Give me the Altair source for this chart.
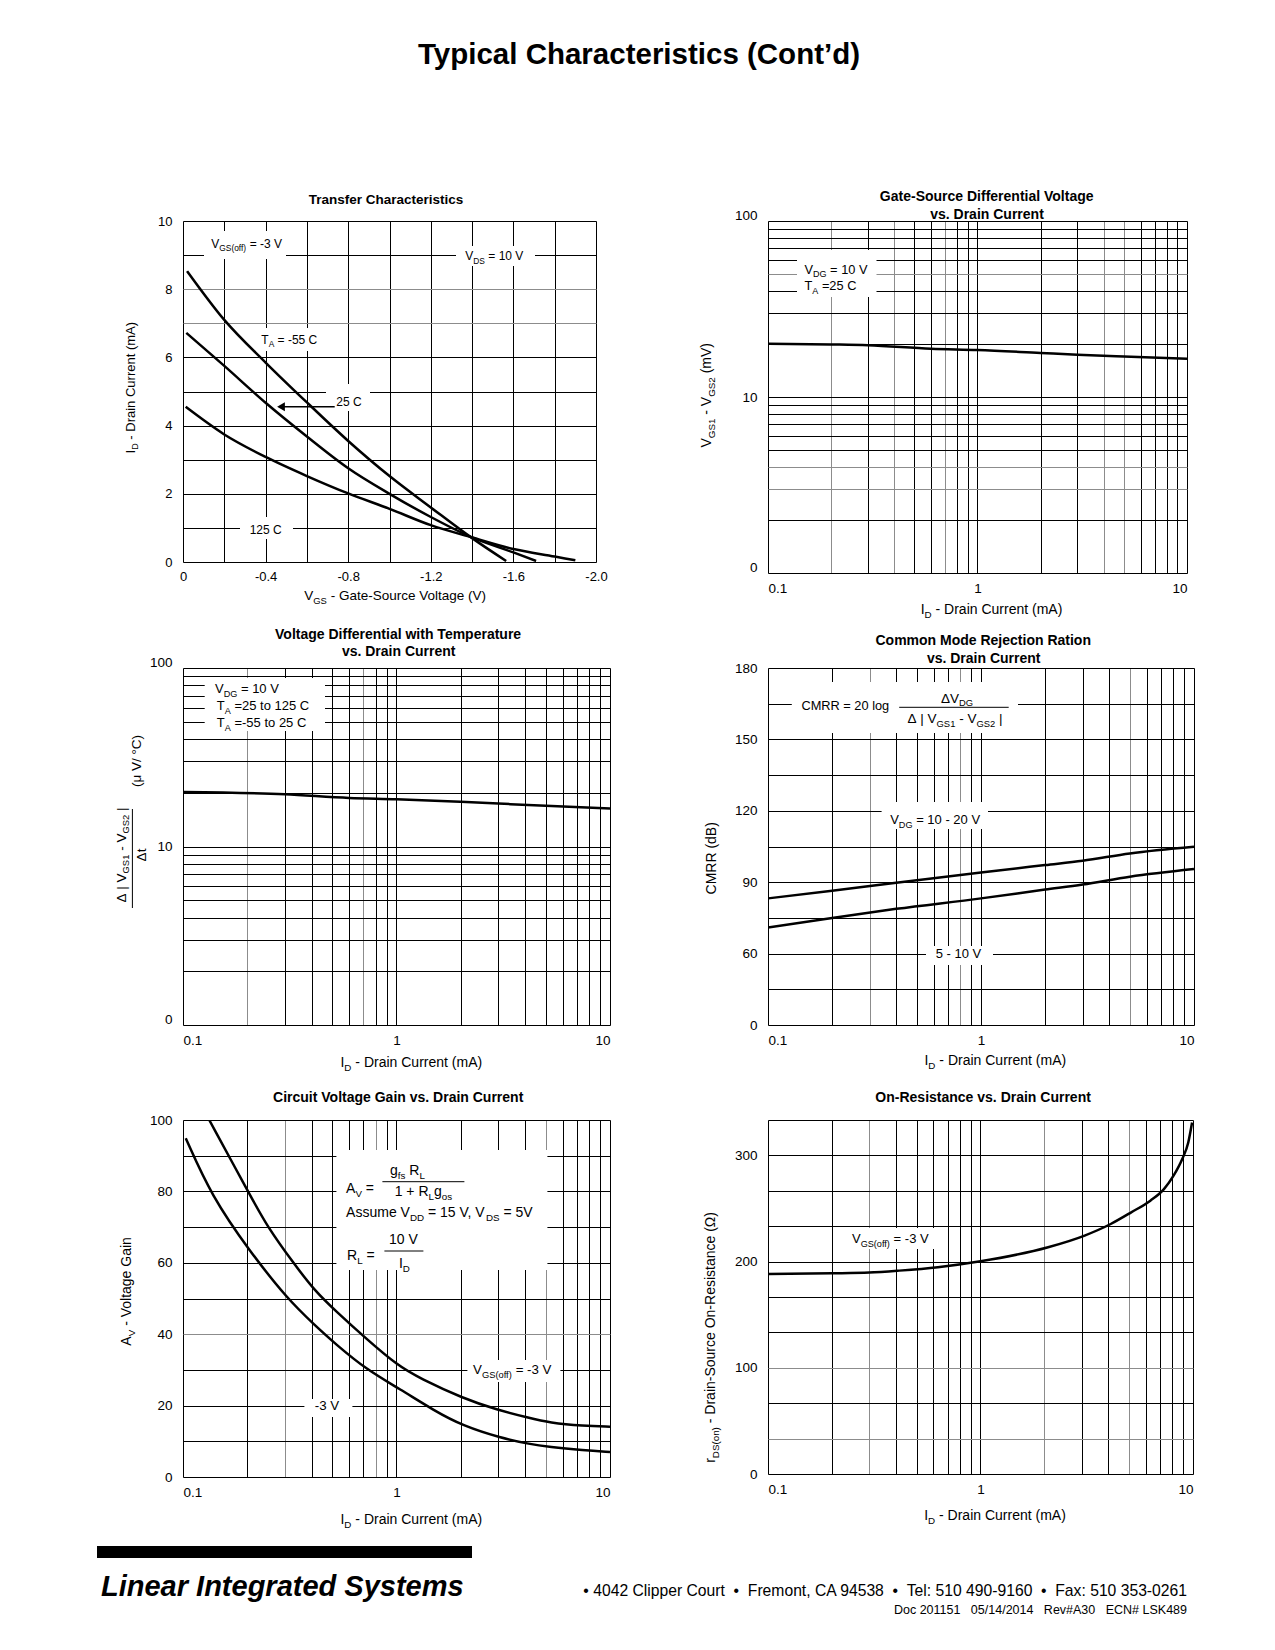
import altair as alt
import pandas as pd

FONT = "Liberation Sans"

# ---------------- values ----------------
# Transfer characteristics: VGS (V) -> ID (mA)
tc_m55_vgs = [-0.02, -0.2, -0.4, -0.6, -0.8, -1.0, -1.2, -1.4, -1.565]
tc_m55_id = [8.53, 7.1, 5.85, 4.68, 3.55, 2.52, 1.6, 0.7, 0.03]
tc_25_vgs = [-0.016, -0.2, -0.4, -0.6, -0.8, -1.0, -1.2, -1.4, -1.6, -1.71]
tc_25_id = [6.72, 5.75, 4.67, 3.68, 2.75, 2.0, 1.32, 0.72, 0.28, 0.03]
tc_125_vgs = [-0.013, -0.2, -0.4, -0.6, -0.8, -1.0, -1.2, -1.4, -1.6, -1.8, -1.9]
tc_125_id = [4.55, 3.74, 3.08, 2.52, 2.01, 1.56, 1.08, 0.72, 0.38, 0.16, 0.05]

# Gate-source differential voltage (mV) vs ID (mA)
gs_id = [0.1, 0.2, 0.3, 0.6, 1, 2, 3, 5, 10]
gs_mv = [20.1, 19.9, 19.7, 18.8, 18.5, 17.8, 17.4, 17.0, 16.5]

# Voltage differential with temperature (uV/C) vs ID (mA)
vt_id = [0.1, 0.3, 0.6, 1, 2, 3, 5, 10]
vt_uv = [20.2, 19.6, 18.7, 18.4, 17.8, 17.4, 16.9, 16.3]

# CMRR (dB, on the printed grid) vs ID (mA)
cm_id = [0.1, 0.2, 0.4, 1, 2, 3, 5, 10]
cm_hi = [83.2, 86.4, 89.8, 94.1, 97.2, 99.0, 102.1, 104.9]
cm_lo = [71.0, 75.0, 78.8, 83.2, 86.9, 89.0, 92.3, 95.5]

# Circuit voltage gain vs ID (mA)
av_up_id = [0.1327, 0.205, 0.247, 0.332, 0.415, 0.519, 0.725, 1.013, 1.29, 2.05, 2.96, 4.16, 5.2, 7.5, 10]
av_up = [100, 79.2, 70.3, 59.6, 52.1, 46.5, 38.6, 31.2, 27.6, 22.0, 18.8, 16.6, 15.2, 14.3, 14.1]
av_lo_id = [0.103, 0.136, 0.205, 0.309, 0.415, 0.519, 0.727, 1.04, 1.5, 2.05, 3.1, 4.13, 5.2, 7.5, 10]
av_lo = [94.9, 78.7, 63.3, 49.8, 42.5, 37.2, 30.0, 24.6, 18.6, 14.3, 10.9, 9.3, 8.4, 7.5, 7.0]

# On-resistance vs ID (mA)
rds_id = [0.1, 0.2, 0.3, 0.415, 0.63, 1.0, 2.08, 3.09, 4.1, 5.12, 6.3, 7.3, 8.1, 8.9, 9.5, 9.9]
rds = [188.4, 189.0, 189.7, 191.5, 194.7, 200.3, 213.5, 224.5, 235.4, 246.4, 257.4, 268.3, 280.9, 296.6, 312.2, 331.0]

# axis grid / tick positions
LOG_X = [0.1, 0.2, 0.3, 0.4, 0.5, 0.6, 0.7, 0.8, 0.9, 1, 2, 3, 4, 5, 6, 7, 8, 9, 10]
LOG_Y = [1, 2, 3, 4, 5, 6, 7, 8, 9, 10, 20, 30, 40, 50, 60, 70, 80, 90, 100]
VGS_T = [0, -0.2, -0.4, -0.6, -0.8, -1.0, -1.2, -1.4, -1.6, -1.8, -2.0]
ID_T = [0, 1, 2, 3, 4, 5, 6, 7, 8, 9, 10]
CM_T = [30, 45, 60, 75, 90, 105, 120, 135, 150, 165, 180]
AV_T = [0, 10, 20, 30, 40, 50, 60, 70, 80, 90, 100]
RD_T = [0, 33.33, 66.67, 100, 133.33, 166.67, 200, 233.33, 266.67, 300, 333.33]

# ---------------- text helpers ----------------
WR = {' ': 278, '(': 333, ')': 333, '-': 333, '.': 278, ',': 278, '/': 278, ':': 278,
      '=': 584, '+': 584, '|': 260, '#': 556, 'Δ': 668, 'μ': 577, '°': 400, 'Ω': 768}
for c in '0123456789':
    WR[c] = 556
WR.update(dict(zip('ABCDEFGHIJKLMNOPQRSTUVWXYZ',
                   [667, 667, 722, 722, 667, 611, 778, 722, 278, 500, 667, 556, 833, 722, 778, 667,
                    778, 722, 667, 611, 722, 667, 944, 667, 667, 611])))
WR.update(dict(zip('abcdefghijklmnopqrstuvwxyz',
                   [556, 556, 500, 556, 556, 278, 556, 556, 222, 222, 500, 222, 833, 556, 556, 556,
                    556, 333, 500, 278, 556, 500, 722, 500, 500, 500])))


def tw(s, size):
    return sum(WR.get(c, 556) for c in s) * size / 1000.0


ONE = pd.DataFrame({'k': [0]})


def txt(s, x, y, size=13, align='left', angle=0, dx=0, dy=0, weight='normal', style='normal'):
    return alt.Chart(ONE).mark_text(
        text=s, font=FONT, fontSize=size, align=align, baseline='alphabetic', angle=angle,
        dx=dx, dy=dy, fontWeight=weight, fontStyle=style, color='black'
    ).encode(x=alt.value(x), y=alt.value(y))


def rich(segs, x, y, size=13, align='left', angle=0):
    sub = round(size * 0.7, 1)
    items = []
    for s in segs:
        t, k = (s, 'n') if isinstance(s, str) else s
        fs = sub if k == 's' else size
        items.append((t, k, fs, tw(t, fs)))
    total = sum(i[3] for i in items)
    off = {'left': 0.0, 'center': -total / 2, 'right': -total}[align]
    out = []
    for t, k, fs, w in items:
        lead = len(t) - len(t.lstrip(' '))
        core = t.strip(' ')
        if core:
            out.append(txt(core, x, y, fs, 'left', angle,
                           dx=round(off + lead * 0.278 * fs, 2),
                           dy=round(size * 0.28, 2) if k == 's' else 0))
        off += w
    return out


def box(x1, y1, x2, y2, color='white'):
    return alt.Chart(ONE).mark_rect(color=color).encode(
        x=alt.value(x1), x2=alt.value(x2), y=alt.value(y1), y2=alt.value(y2))


def hline(x1, x2, y, w=1):
    return alt.Chart(ONE).mark_rule(color='black', strokeWidth=w).encode(
        x=alt.value(x1), x2=alt.value(x2), y=alt.value(y))


def vline(x, y1, y2, w=1):
    return alt.Chart(ONE).mark_rule(color='black', strokeWidth=w).encode(
        x=alt.value(x), y=alt.value(y1), y2=alt.value(y2))


def cond_color(vals):
    if not vals:
        return 'black'
    test = ' || '.join('datum.value == %s' % v for v in vals)
    return {'condition': {'test': test, 'value': '#8c8c8c'}, 'value': 'black'}


def mk_axis(values, expr, gray=(), pad=8, flush=False, offset=None, fs=13):
    kw = dict(values=values, labelExpr=expr, labelOverlap=False, labelFlush=flush, grid=True,
              gridColor=cond_color(gray), gridWidth=1, gridOpacity=1, ticks=False, tickSize=0,
              domain=False, labelPadding=pad, labelFont=FONT, labelFontSize=fs,
              labelColor='black', title=None)
    if offset is not None:
        kw['labelOffset'] = offset
    return alt.Axis(**kw)


LOGX_EXPR = "datum.value == 0.1 ? '0.1' : datum.value == 1 ? '1' : datum.value == 10 ? '10' : ''"
LOGY_EXPR = "datum.value == 100 ? '100' : datum.value == 10 ? '10' : datum.value == 1 ? '0' : ''"
LOGY_OFF = {'condition': {'test': 'datum.value == 100 || datum.value == 1', 'value': -6}, 'value': 0}


def curves(pairs):
    rows = []
    for name, xs, ys in pairs:
        rows += [{'x': a, 'y': b, 's': name} for a, b in zip(xs, ys)]
    return pd.DataFrame(rows)


def panel(df, xs, ys, xa, ya, w, h, under, over, interp='monotone'):
    line = alt.Chart(df).mark_line(color='black', strokeWidth=2.5, interpolate=interp, clip=True).encode(
        x=alt.X('x:Q', scale=xs, axis=xa), y=alt.Y('y:Q', scale=ys, axis=ya), detail='s:N')
    return alt.layer(*under, line, *over).properties(width=w, height=h)


def title(t, cx, y, fs=14):
    return txt(t, cx, y, fs, 'center', weight='bold')


logx = alt.Scale(type='log', domain=[0.1, 10], nice=False)
ID_SEG = ['I', ('D', 's'), ' - Drain Current (mA)']
LF = 13.5  # tick label size, panels 2-6
AF = 14    # axis title size, panels 2-6

# ---------------- panel 1 ----------------
W1, H1 = 413, 341
p1 = panel(
    curves([('m55', tc_m55_vgs, tc_m55_id), ('25', tc_25_vgs, tc_25_id), ('125', tc_125_vgs, tc_125_id)]),
    alt.Scale(domain=[-2, 0], reverse=True, nice=False, zero=False),
    alt.Scale(domain=[0, 10], nice=False),
    mk_axis(VGS_T, "round(datum.value*10) % 4 == 0 ? (datum.value == 0 ? '0' : '-' + format(abs(datum.value), '.1f')) : ''", pad=8),
    mk_axis(ID_T, "datum.value % 2 == 0 ? datum.label : ''", gray=[7, 8], pad=11),
    W1, H1,
    [box(0, -200, 2, -199), box(21, 10, 103, 38), box(273, 25, 352, 45), box(73, 107, 137, 130),
     box(143, 163, 187, 190), box(57, 296, 110, 318)],
    [txt('Typical Characteristics (Cont\u2019d)', 456, -157, 29.5, 'center', weight='bold'),
     title('Transfer Characteristics', 203, -17.3, 13.5),
     *rich(['V', ('GS(off)', 's'), ' = -3 V'], 28.3, 26.7, 12),
     *rich(['V', ('DS', 's'), ' = 10 V'], 282.3, 39.3, 12),
     *rich(['T', ('A', 's'), ' = -55 C'], 78.3, 122.7, 12),
     txt('25 C', 153.3, 185, 12),
     txt('125 C', 66.7, 312.7, 12),
     hline(99, 151.7, 185.7, 1.5),
     alt.Chart(ONE).mark_point(shape='triangle-left', filled=True, size=80, color='black', opacity=1).encode(
         x=alt.value(98), y=alt.value(185.7)),
     *rich(['V', ('GS', 's'), ' - Gate-Source Voltage (V)'], 212.5, 379.3, 13.5, 'center'),
     *rich(ID_SEG, -48.3, 166.7, 13, 'center', 270)])

# ---------------- panel 2 ----------------
W2, H2 = 419, 352
p2 = panel(
    curves([('a', gs_id, gs_mv)]), logx,
    alt.Scale(type='log', domain=[1, 100], nice=False),
    mk_axis(LOG_X, LOGX_EXPR, gray=[0.2, 0.4, 0.7, 4, 5], pad=8, flush=True, fs=LF),
    mk_axis(LOG_Y, LOGY_EXPR, gray=[50, 4, 3], pad=11, offset=LOGY_OFF, fs=LF),
    W2, H2,
    [box(29, 29, 108.5, 76)],
    [title('Gate-Source Differential Voltage', 218.7, -19.7),
     title('vs. Drain Current', 219, -2.3),
     *rich(['V', ('DG', 's'), ' = 10 V'], 36.5, 52.7, 12.8),
     *rich(['T', ('A', 's'), ' =25 C'], 36.5, 69.3, 12.8),
     *rich(ID_SEG, 223.5, H2 + 41, AF, 'center'),
     *rich(['V', ('GS1', 's'), ' - V', ('GS2', 's'), ' (mV)'], -57.1, 174.3, AF, 'center', 270)])

# ---------------- panel 3 ----------------
W3, H3 = 427, 357
p3 = panel(
    curves([('a', vt_id, vt_uv)]), logx,
    alt.Scale(type='log', domain=[1, 100], nice=False),
    mk_axis(LOG_X, LOGX_EXPR, gray=[0.2, 0.7], pad=8, flush=True, fs=LF),
    mk_axis(LOG_Y, LOGY_EXPR, pad=11, offset=LOGY_OFF, fs=LF),
    W3, H3,
    [box(21.7, 10, 142, 63)],
    [title('Voltage Differential with Temperature', 215.1, -29.3),
     title('vs. Drain Current', 215.7, -12),
     *rich(['V', ('DG', 's'), ' = 10 V'], 32, 25.3, 13),
     *rich(['T', ('A', 's'), ' =25 to 125 C'], 33.8, 42.3, 13),
     *rich(['T', ('A', 's'), ' =-55 to 25 C'], 33.8, 59, 13),
     *rich(ID_SEG, 228.3, H3 + 42, AF, 'center'),
     *rich(['Δ', ' | V', ('GS1', 's'), ' - V', ('GS2', 's'), ' |'], -57.5, 187, 13.5, 'center', 270),
     vline(-50.6, 141, 240),
     txt('Δt', -36.9, 187, 13.5, 'center', 270),
     txt('(μ V/ °C)', -42, 93, 13.5, 'center', 270)])

# ---------------- panel 4 ----------------
W4, H4 = 426, 357
p4 = panel(
    curves([('hi', cm_id, cm_hi), ('lo', cm_id, cm_lo)]), logx,
    alt.Scale(domain=[30, 180], nice=False, zero=False),
    mk_axis(LOG_X, LOGX_EXPR, gray=[0.3, 0.8, 5], pad=8, flush=True, fs=LF),
    mk_axis(CM_T, "datum.value == 30 ? '0' : (datum.value % 30 == 0 ? datum.label : '')", pad=11, fs=LF),
    W4, H4,
    [box(23.8, 14, 250, 65), box(113.6, 134, 220, 161), box(158, 278, 225, 297)],
    [title('Common Mode Rejection Ration', 215.2, -23),
     title('vs. Drain Current', 215.7, -5.3),
     txt('CMRR = 20 log', 33.4, 42, 12.8),
     *rich(['ΔV', ('DG', 's')], 189.1, 34.7, 13.5, 'center'),
     hline(131.2, 240.7, 39.3),
     *rich(['Δ', ' | V', ('GS1', 's'), ' - V', ('GS2', 's'), ' |'], 187, 55.3, 13.5, 'center'),
     *rich(['V', ('DG', 's'), ' = 10 - 20 V'], 122.2, 156, 13),
     txt('5 - 10 V', 167.7, 290.3, 13),
     *rich(ID_SEG, 227.3, H4 + 40, AF, 'center'),
     txt('CMRR (dB)', -51.7, 190.3, AF, 'center', 270)])

# ---------------- panel 5 ----------------
W5, H5 = 427, 357
ADDR = '•\u00a04042 Clipper Court\u00a0\u00a0•\u00a0\u00a0Fremont, CA 94538\u00a0\u00a0•\u00a0\u00a0Tel: 510 490-9160\u00a0\u00a0•\u00a0\u00a0Fax: 510 353-0261'
DOC = 'Doc 201151\u00a0\u00a0\u00a005/14/2014\u00a0\u00a0\u00a0Rev#A30\u00a0\u00a0\u00a0ECN# LSK489'
p5 = panel(
    curves([('up', av_up_id, av_up), ('lo', av_lo_id, av_lo)]), logx,
    alt.Scale(domain=[0, 100], nice=False),
    mk_axis(LOG_X, LOGX_EXPR, gray=[0.3, 0.8, 5], pad=8, flush=True, fs=LF),
    mk_axis(AV_T, "datum.value % 20 == 0 ? datum.label : ''", gray=[40], pad=11, fs=LF),
    W5, H5,
    [box(153.4, 30, 364.4, 150), box(284.4, 240, 377.4, 262), box(121.4, 279, 169.4, 297)],
    [title('Circuit Voltage Gain vs. Drain Current', 215.2, -18.3),
     *rich(['A', ('V', 's'), ' ='], 163.1, 72.7, 14),
     *rich(['g', ('fs', 's'), ' R', ('L', 's')], 224.4, 55, 14, 'center'),
     hline(199.4, 281.4, 61.7),
     *rich(['1 + R', ('L', 's'), 'g', ('os', 's')], 240.4, 76, 14, 'center'),
     *rich(['Assume V', ('DD', 's'), ' = 15 V, V', ('DS', 's'), ' = 5V'], 163.1, 96.7, 14),
     txt('10 V', 220.4, 124, 14, 'center'),
     hline(201.4, 240.4, 131),
     *rich(['I', ('D', 's')], 221.4, 148.3, 14, 'center'),
     *rich(['R', ('L', 's'), ' ='], 164.1, 140, 14),
     *rich(['V', ('GS(off)', 's'), ' = -3 V'], 290.1, 254, 13.3),
     txt('-3 V', 131.7, 290, 13.3),
     *rich(ID_SEG, 228.3, H5 + 46.7, AF, 'center'),
     *rich(['A', ('V', 's'), ' - Voltage Gain'], -52.4, 171, AF, 'center', 270),
     box(-86, 426, 289, 438, 'black'),
     txt('Linear Integrated Systems', -82, 476, 29, weight='bold', style='italic'),
     txt(ADDR, 1004, 476, 15.7, 'right'),
     txt(DOC, 1004, 494, 12.5, 'right')],
    interp='basis')

# ---------------- panel 6 ----------------
W6, H6 = 425, 354
p6 = panel(
    curves([('a', rds_id, rds)]), logx,
    alt.Scale(domain=[0, 333.33], nice=False),
    mk_axis(LOG_X, LOGX_EXPR, gray=[0.3, 2, 5], pad=8, flush=True, fs=LF),
    mk_axis(RD_T, "datum.value % 100 == 0 ? datum.label : ''", gray=[100, 33.33], pad=11, fs=LF),
    W6, H6,
    [box(80.6, 108, 168.4, 129)],
    [title('On-Resistance vs. Drain Current', 215.1, -18.3),
     *rich(['V', ('GS(off)', 's'), ' = -3 V'], 84, 123, 13),
     *rich(ID_SEG, 227, H6 + 45.7, AF, 'center'),
     *rich(['r', ('DS(on)', 's'), ' - Drain-Source On-Resistance (Ω)'], -52.7, 217.3, AF, 'center', 270)])

chart = alt.ConcatChart(
    concat=[p1, p2, p3, p4, p5, p6], columns=2,
    spacing={'row': 95, 'column': 158}, bounds='flush',
    padding={'left': 88, 'top': 12, 'right': 10, 'bottom': 10},
).configure_view(stroke='black', strokeWidth=2.5).configure(background='white', font=FONT)

chart.save("out.html", embed_options={"renderer": "svg", "actions": False})
